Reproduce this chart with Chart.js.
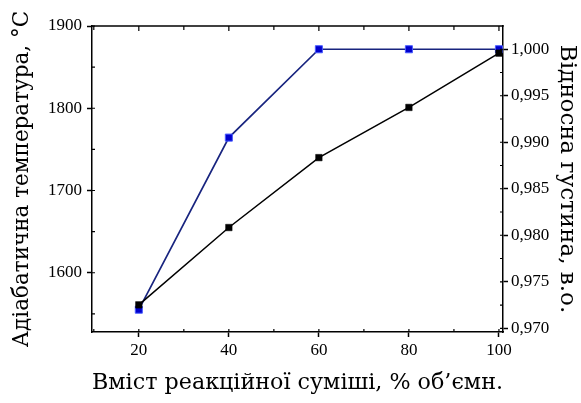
<!DOCTYPE html>
<html><head><meta charset="utf-8">
<script src="https://cdn.jsdelivr.net/npm/chart.js@4.4.1/dist/chart.umd.min.js"></script>
<style>html,body{margin:0;padding:0;background:#fff}#wrap{width:581px;height:403px}</style>
</head><body><div id="wrap"><canvas id="c" width="581" height="403"></canvas></div>
<script>
const mixtureContent = [20, 40, 60, 80, 100];
const adiabaticTemp = [1561, 1655, 1740, 1801, 1867];
const relativeDensity = [0.9720, 0.9905, 1.000, 1.000, 1.000];
const xTickValues = [20, 40, 60, 80, 100];
const xMinorValues = [10, 30, 50, 70, 90];
const tempTickValues = [1600, 1700, 1800, 1900];
const tempMinorValues = [1550, 1650, 1750, 1850];
const densTickValues = [0.970, 0.975, 0.980, 0.985, 0.990, 0.995, 1.000];
const densMinorValues = [0.9725, 0.9775, 0.9825, 0.9875, 0.9925, 0.9975];
const xTitle = 'Вміст реакційної суміші, % об’ємн.';
const tempTitle = 'Адіабатична температура, °C';
const densTitle = 'Відносна густина, в.о.';

const tickFont = {family: '"Liberation Serif", "Times New Roman", serif', size: 17};
const serifTitle = '"DejaVu Serif", serif';

const framePlugin = {
  id: 'frame',
  afterDraw(chart) {
    const {ctx, chartArea: a, scales} = chart;
    ctx.save();
    ctx.strokeStyle = '#000';
    ctx.lineWidth = 1.5;
    ctx.beginPath();
    ctx.moveTo(a.left - 0.75, a.top);
    ctx.lineTo(a.right + 0.75, a.top);
    ctx.stroke();
    ctx.lineWidth = 1.2;
    ctx.beginPath();
    xTickValues.forEach(v => {
      const px = scales.x.getPixelForValue(v);
      ctx.moveTo(px, a.top); ctx.lineTo(px, a.top + 5);
      ctx.moveTo(px, a.bottom); ctx.lineTo(px, a.bottom - 3);
    });
    xMinorValues.forEach(v => {
      const px = scales.x.getPixelForValue(v);
      ctx.moveTo(px, a.top); ctx.lineTo(px, a.top + 4);
      ctx.moveTo(px, a.bottom); ctx.lineTo(px, a.bottom - 3);
    });
    tempTickValues.concat(tempMinorValues).forEach(v => {
      const py = scales.y.getPixelForValue(v);
      ctx.moveTo(a.left, py); ctx.lineTo(a.left + 3, py);
    });
    densTickValues.concat(densMinorValues).forEach(v => {
      const py = scales.y1.getPixelForValue(v);
      ctx.moveTo(a.right, py); ctx.lineTo(a.right - 3, py);
    });
    ctx.stroke();
    ctx.restore();
  }
};

const axisCommon = {
  grid: {drawOnChartArea: false, drawTicks: true, tickLength: 5, tickWidth: 1.5, tickColor: '#000'},
  border: {display: true, color: '#000', width: 1.5}
};

new Chart(document.getElementById('c'), {
  type: 'line',
  data: {
    datasets: [
      {
        label: tempTitle,
        data: mixtureContent.map((x, i) => ({x, y: adiabaticTemp[i]})),
        yAxisID: 'y',
        borderColor: '#000',
        borderWidth: 1.5,
        pointStyle: 'rect',
        pointRadius: 4.6,
        pointBackgroundColor: '#000',
        pointBorderColor: '#000',
        pointBorderWidth: 0.5,
        tension: 0
      },
      {
        label: densTitle,
        data: mixtureContent.map((x, i) => ({x, y: relativeDensity[i]})),
        yAxisID: 'y1',
        borderColor: '#18247f',
        borderWidth: 1.7,
        pointStyle: 'rect',
        pointRadius: 5,
        pointBackgroundColor: '#0000cc',
        pointBorderColor: '#4a5cff',
        pointBorderWidth: 1,
        tension: 0
      }
    ]
  },
  options: {
    responsive: false,
    animation: false,
    devicePixelRatio: 1,
    layout: {padding: {top: 26, left: 0, right: 0, bottom: 0}},
    plugins: {legend: {display: false}, tooltip: {enabled: false}},
    scales: {
      x: Object.assign({}, axisCommon, {
        type: 'linear', position: 'bottom', min: 9.6, max: 100.9,
        afterBuildTicks: s => { s.ticks = xTickValues.map(v => ({value: v})); },
        afterFit: s => { s.height = 71; },
        ticks: {color: '#000', font: tickFont, padding: 3, maxRotation: 0, autoSkip: false,
          callback: v => String(v)},
        title: {display: true, text: xTitle, color: '#000', font: {family: serifTitle, size: 22.5}, padding: {top: 0, bottom: 6.5}}
      }),
      y: Object.assign({}, axisCommon, {
        type: 'linear', position: 'left', min: 1528, max: 1900,
        afterBuildTicks: s => { s.ticks = tempTickValues.map(v => ({value: v})); },
        afterFit: s => { s.width = 92; },
        ticks: {color: '#000', font: tickFont, padding: 5, autoSkip: false,
          callback: v => String(v)},
        title: {display: true, text: tempTitle, color: '#000', font: {family: serifTitle, size: 21.5}, padding: {top: 10, bottom: 0}}
      }),
      y1: Object.assign({}, axisCommon, {
        type: 'linear', position: 'right', min: 0.9696, max: 1.0025,
        afterBuildTicks: s => { s.ticks = densTickValues.map(v => ({value: v})); },
        afterFit: s => { s.width = 78; },
        ticks: {color: '#000', font: tickFont, padding: 3, autoSkip: false,
          callback: v => v.toFixed(3).replace('.', ',')},
        title: {display: true, text: densTitle, color: '#000', font: {family: serifTitle, size: 23}, padding: {top: 0, bottom: 0}}
      })
    }
  },
  plugins: [framePlugin]
});
</script>
</body></html>
